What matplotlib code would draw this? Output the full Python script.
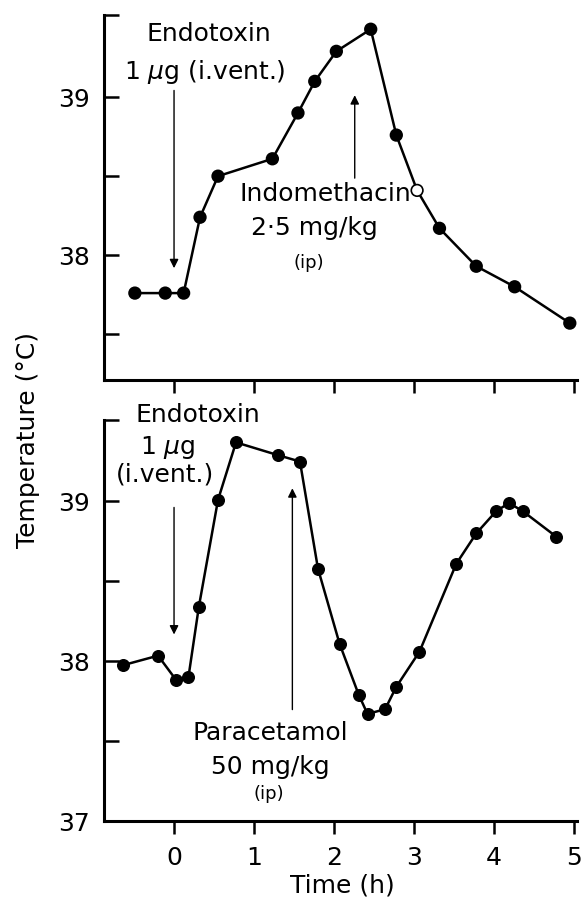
import numpy as np
import matplotlib
matplotlib.use("Agg")
import matplotlib.pyplot as plt

plt.rcParams['font.family'] = ['DejaVu Sans']
plt.rcParams['mathtext.fontset'] = 'dejavusans'

# top panel: endotoxin then indomethacin
t_top = [-0.49, -0.11, 0.12, 0.325, 0.55, 1.23, 1.55, 1.76, 2.03, 2.46, 2.78, 3.04, 3.32, 3.78, 4.26, 4.95]
temp_top = [37.76, 37.76, 37.76, 38.24, 38.50, 38.61, 38.90, 39.10, 39.29, 39.43, 38.76, 38.41, 38.17, 37.93, 37.80, 37.57]
open_idx = 11  # open circle in the top trace

# bottom panel: endotoxin then paracetamol
t_bot = [-0.64, -0.20, 0.03, 0.18, 0.31, 0.55, 0.775, 1.30, 1.575, 1.80, 2.07, 2.31, 2.42, 2.64, 2.78,
         3.07, 3.53, 3.78, 4.03, 4.19, 4.36, 4.78]
temp_bot = [37.975, 38.035, 37.88, 37.90, 38.34, 39.01, 39.37, 39.29, 39.25, 38.58, 38.11, 37.79, 37.67,
            37.70, 37.84, 38.06, 38.61, 38.80, 38.94, 38.99, 38.94, 38.78]

xticks = [0, 1, 2, 3, 4, 5]

fig = plt.figure(figsize=(5.82, 9.13), dpi=100)
ax1 = fig.add_axes([104/582, 1-380/913, 473/582, 365/913])
ax2 = fig.add_axes([104/582, 1-821/913, 473/582, 401/913])

fs = 18
small = 13
for ax in (ax1, ax2):
    ax.spines['top'].set_visible(False)
    ax.spines['right'].set_visible(False)
    ax.spines['left'].set_linewidth(2.2)
    ax.spines['bottom'].set_linewidth(2.2)
    ax.set_xlim(-0.876, 5.04)
    ax.set_xticks(xticks)
    ax.tick_params(axis='x', direction='out', length=9, width=1.8, labelsize=fs, pad=9)
    ax.tick_params(axis='y', which='both', direction='in', length=11, width=1.8, labelsize=fs, pad=10)

# top
ax1.set_ylim(37.21, 39.52)
ax1.set_yticks([38, 39])
ax1.set_yticks([37.5, 38.5, 39.52], minor=True)
ax1.tick_params(axis='x', labelbottom=False)
ax1.plot(t_top, temp_top, color='k', lw=1.8, zorder=2)
mfill = ['k'] * len(t_top)
mfill[open_idx] = 'white'
ax1.scatter(t_top, temp_top, s=70, c=mfill, edgecolors='k', linewidths=1.2, zorder=3)

ax1.annotate('', xy=(0, 37.9), xytext=(0, 39.06),
             arrowprops=dict(arrowstyle='-|>', color='k', lw=1.0, mutation_scale=13))
ax1.text(0.44, 39.40, 'Endotoxin', fontsize=fs, ha='center', va='center')
ax1.text(0.38, 39.16, '1 $\\mu$g (i.vent.)', fontsize=fs, ha='center', va='center')
ax1.annotate('', xy=(2.26, 39.03), xytext=(2.26, 38.47),
             arrowprops=dict(arrowstyle='-|>', color='k', lw=1.0, mutation_scale=13))
ax1.text(1.89, 38.39, 'Indomethacin', fontsize=fs, ha='center', va='center')
ax1.text(1.76, 38.17, '2·5 mg/kg', fontsize=fs, ha='center', va='center')
ax1.text(1.68, 37.95, '(ip)', fontsize=small, ha='center', va='center')

# bottom
ax2.set_ylim(37.0, 39.51)
ax2.set_yticks([37, 38, 39])
ax2.set_yticks([37.5, 38.5, 39.51], minor=True)
ax2.plot(t_bot, temp_bot, color='k', lw=1.8, zorder=2)
ax2.scatter(t_bot, temp_bot, s=70, c='k', zorder=3)

ax2.annotate('', xy=(0, 38.15), xytext=(0, 38.98),
             arrowprops=dict(arrowstyle='-|>', color='k', lw=1.0, mutation_scale=13))
ax2.text(0.30, 39.54, 'Endotoxin', fontsize=fs, ha='center', va='center')
ax2.text(-0.08, 39.34, '1 $\\mu$g', fontsize=fs, ha='center', va='center')
ax2.text(-0.11, 39.17, '(i.vent.)', fontsize=fs, ha='center', va='center')
ax2.annotate('', xy=(1.48, 39.10), xytext=(1.48, 37.68),
             arrowprops=dict(arrowstyle='-|>', color='k', lw=1.0, mutation_scale=13))
ax2.text(1.20, 37.55, 'Paracetamol', fontsize=fs, ha='center', va='center')
ax2.text(1.20, 37.34, '50 mg/kg', fontsize=fs, ha='center', va='center')
ax2.text(1.18, 37.17, '(ip)', fontsize=small, ha='center', va='center')

fig.text(342/582, 1-885/913, 'Time (h)', fontsize=fs, ha='center', va='center')
fig.text(28/582, 1-440/913, 'Temperature (°C)', fontsize=fs, ha='center', va='center', rotation=90)

fig.savefig('out.png', dpi=100)
